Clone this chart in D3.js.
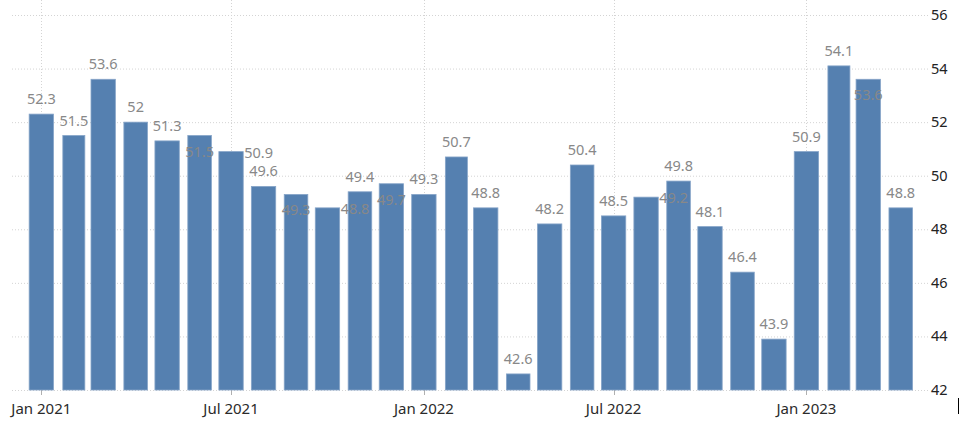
<!DOCTYPE html>
<html><head><meta charset="utf-8">
<script src="https://cdn.jsdelivr.net/npm/d3@7"></script>
<style>html,body{margin:0;padding:0;background:#fff;}svg{display:block;}</style>
</head><body>
<svg id="chart" width="960" height="424"></svg>
<script>
// ---- data ----
const months = ["2021-01","2021-02","2021-03","2021-04","2021-05","2021-06","2021-07","2021-08","2021-09","2021-10","2021-11","2021-12",
  "2022-01","2022-02","2022-03","2022-04","2022-05","2022-06","2022-07","2022-08","2022-09","2022-10","2022-11","2022-12",
  "2023-01","2023-02","2023-03","2023-04"];
const values = [52.3,51.5,53.6,52,51.3,51.5,50.9,49.6,49.3,48.8,49.4,49.7,
  49.3,50.7,48.8,42.6,48.2,50.4,48.5,49.2,49.8,48.1,46.4,43.9,
  50.9,54.1,53.6,48.8];
const xTickLabels = ["Jan 2021","Jul 2021","Jan 2022","Jul 2022","Jan 2023"];
const yTicks = [42,44,46,48,50,52,54,56];
// label placement for crowded labels (default: above the bar)
const labelPlacement = {5:"inside",6:"right",8:"inside",9:"right",11:"inside",19:"right",26:"inside"};

// ---- layout ----
const parse = d3.utcParse("%Y-%m");
const dates = months.map(parse);
const mLeft = 12, mRight = 928, mTop = 15, mBottom = 390;

const x = d3.scaleUtc()
  .domain([d3.utcDay.offset(dates[0], -28), d3.utcDay.offset(dates[dates.length-1], 26)])
  .range([mLeft, mRight]);
const y = d3.scaleLinear().domain([42,56]).range([mBottom, mTop]);

const svg = d3.select("#chart");
const font = "'Noto Sans', 'DejaVu Sans', sans-serif";

// horizontal grid
svg.append("g").selectAll("line").data(yTicks).join("line")
  .attr("x1", mLeft).attr("x2", mRight)
  .attr("y1", d => y(d)+0.5).attr("y2", d => y(d)+0.5)
  .attr("stroke", "#d4d4d4").attr("stroke-dasharray", "1,2").attr("stroke-width", 1);

// x ticks
const tickDates = xTickLabels.map(d3.utcParse("%b %Y"));
svg.append("g").selectAll("line").data(tickDates).join("line")
  .attr("x1", d => Math.round(x(d))+0.5).attr("x2", d => Math.round(x(d))+0.5)
  .attr("y1", 0).attr("y2", mBottom)
  .attr("stroke", "#d4d4d4").attr("stroke-dasharray", "1,2");
svg.append("g").selectAll("line").data(tickDates).join("line")
  .attr("x1", d => Math.round(x(d))+0.5).attr("x2", d => Math.round(x(d))+0.5)
  .attr("y1", mBottom).attr("y2", mBottom+5)
  .attr("stroke", "#b0b0b0");
svg.append("g").selectAll("text").data(tickDates).join("text")
  .attr("x", d => x(d)).attr("y", 414)
  .attr("text-anchor", "middle")
  .attr("font-family", font).attr("font-size", 15).attr("fill", "#2b2b2b")
  .text((d,i) => xTickLabels[i]);

// y axis labels
svg.append("g").selectAll("text").data(yTicks).join("text")
  .attr("x", 931).attr("y", d => y(d)+5)
  .attr("font-family", font).attr("font-size", 14.5).attr("fill", "#222")
  .text(d => d);

// bars
const barW = i => {
  const next = d3.utcMonth.offset(dates[i], 1);
  return (x(next) - x(dates[i])) * 0.75;
};
svg.append("g").selectAll("rect").data(values).join("rect")
  .attr("x", (d,i) => x(dates[i]) - barW(i)/2)
  .attr("width", (d,i) => barW(i))
  .attr("y", d => y(d))
  .attr("height", d => y(42) - y(d))
  .attr("fill", "#5580b0")
  .attr("stroke", "#86a4c8").attr("stroke-width", 0.8);

// value labels
svg.append("g").selectAll("text").data(values).join("text")
  .attr("font-family", font).attr("font-size", 14.5).attr("fill", "#888")
  .each(function(d,i){
    const t = d3.select(this);
    const p = labelPlacement[i] || "above";
    const cx = x(dates[i]);
    if (p === "above") {
      t.attr("x", cx).attr("y", y(d) - 10).attr("text-anchor", "middle");
    } else if (p === "inside") {
      t.attr("x", cx).attr("y", y(d) + 21).attr("text-anchor", "middle");
    } else {
      t.attr("x", cx + barW(i)/2 + 1).attr("y", y(d) + 6).attr("text-anchor", "start");
    }
  })
  .text(d => d);

// small cursor mark at bottom-right
svg.append("line").attr("x1", 958.5).attr("x2", 958.5).attr("y1", 398).attr("y2", 414)
  .attr("stroke", "#000").attr("stroke-width", 1);
</script>
</body></html>
